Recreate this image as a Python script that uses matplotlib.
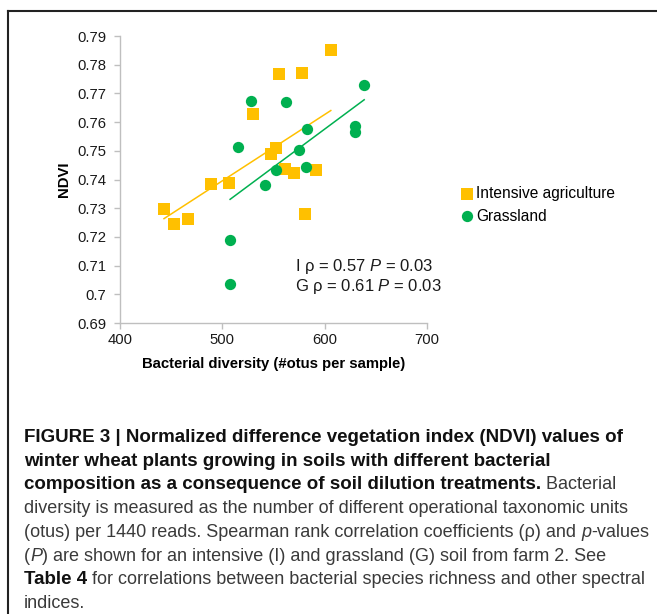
import numpy as np
import matplotlib
matplotlib.use("Agg")
import matplotlib.pyplot as plt

plt.rcParams['font.family'] = ['Liberation Sans', 'DejaVu Sans']
plt.rcParams['mathtext.fontset'] = 'custom'
plt.rcParams['mathtext.rm'] = 'Liberation Sans'
plt.rcParams['mathtext.it'] = 'Liberation Sans:italic'

# Intensive agriculture (squares)
int_x = [606, 555, 578, 529.5, 552, 547.5, 561, 570, 592, 489, 507, 443, 453, 466, 581]
int_y = [0.7851, 0.7767, 0.7770, 0.7628, 0.7509, 0.7488, 0.7436, 0.7422, 0.7432,
         0.7383, 0.7388, 0.7297, 0.7244, 0.7261, 0.7279]

# Grassland (circles)
gra_x = [638.6, 528, 562, 582.3, 629.5, 629.5, 515, 575, 552.4, 582, 542, 507.6, 507.6]
gra_y = [0.7729, 0.7672, 0.7670, 0.7575, 0.7587, 0.7565, 0.7513, 0.7502, 0.7432,
         0.7445, 0.7380, 0.7188, 0.7037]

yellow = '#FFC000'
green = '#00B050'

fig = plt.figure(figsize=(6.57, 6.14), dpi=100)
ax = fig.add_axes([120/657, 1 - 323/614, 307/657, 287/614])

ax.scatter(int_x, int_y, marker='s', s=72, color=yellow, label='Intensive agriculture', zorder=3, linewidths=0)
ax.scatter(gra_x, gra_y, marker='o', s=66, color=green, label='Grassland', zorder=3, linewidths=0)

# linear trendlines
for xs, ys, c in [(int_x, int_y, yellow), (gra_x, gra_y, green)]:
    k, b = np.polyfit(xs, ys, 1)
    xx = np.array([min(xs), max(xs)])
    ax.plot(xx, k * xx + b, color=c, lw=1.1, zorder=2)

ax.set_xlim(400, 700)
ax.set_ylim(0.69, 0.79)
ax.set_xticks([400, 500, 600, 700])
ax.set_yticks(np.arange(0.69, 0.7901, 0.01))
ax.set_yticklabels(['0.69', '0.7', '0.71', '0.72', '0.73', '0.74', '0.75', '0.76', '0.77', '0.78', '0.79'])
for s in ['top', 'right']:
    ax.spines[s].set_visible(False)
for s in ['left', 'bottom']:
    ax.spines[s].set_color('#bfbfbf')
    ax.spines[s].set_linewidth(1.0)
ax.tick_params(colors='#bfbfbf', labelcolor='#1a1a1a', labelsize=10.7, length=4, width=1)
ax.tick_params(axis='y', pad=6)
ax.set_xlabel('Bacterial diversity (#otus per sample)', fontweight='bold', fontsize=10.7, labelpad=7)
ax.set_ylabel('NDVI', fontweight='bold', fontsize=10.7, labelpad=4)

ax.text(295 / 657, 1 - 267 / 614, 'I ρ = 0.57 $P$ = 0.03', transform=fig.transFigure,
        fontsize=12, va='center', color='#1a1a1a')
ax.text(295 / 657, 1 - 286 / 614, 'G ρ = 0.61 $P$ = 0.03', transform=fig.transFigure,
        fontsize=12, va='center', color='#1a1a1a')

ax.legend(loc='upper left', bbox_to_anchor=(451 / 657, 1 - 178 / 614), bbox_transform=fig.transFigure,
          frameon=False, handletextpad=0.1, handlelength=1.0, borderpad=0, labelspacing=0.5,
          fontsize=11.2)

# frame lines (top and left)
fig.add_artist(plt.Line2D([8 / 657, 8 / 657], [0, 1 - 11 / 614], color='#222222', lw=1.5, transform=fig.transFigure))
fig.add_artist(plt.Line2D([8 / 657, 1], [1 - 11 / 614, 1 - 11 / 614], color='#222222', lw=1.5, transform=fig.transFigure))

# caption
fig.canvas.draw()
renderer = fig.canvas.get_renderer()
bold_size = 13.5
reg_size = 12.95
bold_c = '#111111'
reg_c = '#3a3a3a'


def put(line_no, parts):
    x = 24 / 657
    y = 1 - (441.7 + 23.8 * line_no) / 614
    for txt, w, st in parts:
        t = fig.text(x, y, txt, fontsize=bold_size if w == 'bold' else reg_size,
                     fontweight=w, fontstyle=st,
                     color=bold_c if w == 'bold' else reg_c, va='baseline')
        bb = t.get_window_extent(renderer)
        x = bb.x1 / fig.bbox.width


B, R = 'bold', 'normal'
put(0, [('FIGURE 3 | Normalized difference vegetation index (NDVI) values of', B, R)])
put(1, [('winter wheat plants growing in soils with different bacterial', B, R)])
put(2, [('composition as a consequence of soil dilution treatments.', B, R), (' Bacterial', R, R)])
put(3, [('diversity is measured as the number of different operational taxonomic units', R, R)])
put(4, [('(otus) per 1440 reads. Spearman rank correlation coefficients (ρ) and ', R, R), ('p', R, 'italic'), ('-values', R, R)])
put(5, [('(', R, R), ('P', R, 'italic'), (') are shown for an intensive (I) and grassland (G) soil from farm 2. See', R, R)])
put(6, [('Table 4', B, R), (' for correlations between bacterial species richness and other spectral', R, R)])
put(7, [('indices.', R, R)])

fig.savefig('out.png', dpi=100)
